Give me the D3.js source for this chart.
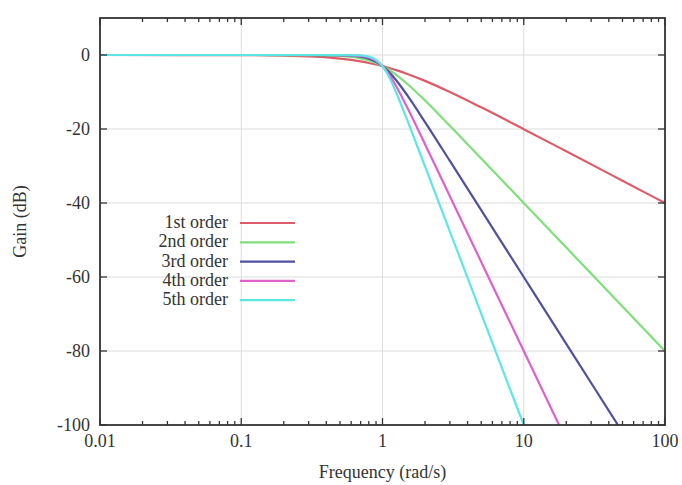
<!DOCTYPE html>
<html>
<head>
<meta charset="utf-8">
<script src="https://cdn.jsdelivr.net/npm/d3@7"></script>
<style>
  body { margin: 0; background: #fff; }
  text { font-family: "Liberation Serif", "DejaVu Serif", serif; fill: #333; }
</style>
</head>
<body>
<script>
// frequencies (rad/s) and gain (dB)
var freq = [0.01, 0.1, 0.3, 0.5, 0.7, 0.8, 0.9, 1, 1.1, 1.25, 1.5, 2, 3, 5, 10, 20, 50, 100];
var order1 = [0, -0.04, -0.37, -0.97, -1.74, -2.15, -2.58, -3.01, -3.45, -4.09, -5.12, -6.99, -10.0, -14.15, -20.04, -26.03, -33.98, -40.0];
var order2 = [0, 0, -0.035, -0.26, -0.93, -1.49, -2.19, -3.01, -3.92, -5.37, -7.83, -12.3, -19.14, -27.97, -40.0, -52.04, -67.96, -80.0];
var order3 = [0, 0, -0.003, -0.067, -0.48, -1.01, -1.85, -3.01, -4.43, -6.83, -10.93, -18.13, -28.63, -41.94, -60.0, -78.06, -101.94, -120];
var order4 = [0, 0, 0, -0.017, -0.24, -0.67, -1.55, -3.01, -4.97, -8.43, -14.25, -24.1, -38.17, -55.92, -80.0, -104.08, -136, -160];
var order5 = [0, 0, 0, -0.004, -0.12, -0.44, -1.3, -3.01, -5.56, -10.13, -17.68, -30.11, -47.71, -69.9, -100.0, -130.1, -170, -200];
var seriesNames = ["1st order", "2nd order", "3rd order", "4th order", "5th order"];
var seriesColors = ["#dd5c6c", "#7ee07a", "#5050a0", "#e060cc", "#5ee6e6"];
var xTicks = [0.01, 0.1, 1, 10, 100];
var xTickLabels = ["0.01", "0.1", "1", "10", "100"];
var yTicks = [0, -20, -40, -60, -80, -100];

var allSeries = [order1, order2, order3, order4, order5];

var W = 682, H = 485;
var pL = 100, pR = 665, pT = 18, pB = 425;

var svg = d3.select("body").append("svg")
    .attr("width", W)
    .attr("height", H);

var x = d3.scaleLog().domain([0.01, 100]).range([pL, pR]);
var y = d3.scaleLinear().domain([-100, 10]).range([pB, pT]);

// grid
svg.selectAll(".vgrid").data(xTicks.slice(1, -1)).enter().append("line")
  .attr("x1", d => x(d)).attr("x2", d => x(d))
  .attr("y1", pT).attr("y2", pB)
  .style("stroke", "#dcdcdc").style("stroke-width", 1);
svg.selectAll(".hgrid").data(yTicks.slice(0, -1)).enter().append("line")
  .attr("x1", pL).attr("x2", pR)
  .attr("y1", d => y(d)).attr("y2", d => y(d))
  .style("stroke", "#dcdcdc").style("stroke-width", 1);

// curves
svg.append("clipPath").attr("id", "clip")
  .append("rect").attr("x", pL).attr("y", pT).attr("width", pR - pL).attr("height", pB - pT);

var line = d3.line()
  .x((d, i) => x(freq[i]))
  .y(d => y(d))
  .curve(d3.curveMonotoneX);

allSeries.forEach(function(s, k) {
  svg.append("path").datum(s)
    .attr("clip-path", "url(#clip)")
    .attr("d", line)
    .style("fill", "none")
    .style("stroke", seriesColors[k])
    .style("stroke-width", 2.2);
});

// axes (ticks pointing inward, on all four sides)
var minor = [];
for (var e = -2; e < 2; e++) for (var m = 2; m <= 9; m++) minor.push(m * Math.pow(10, e));

function xAxisTicks(yy, dir) {
  svg.selectAll(null).data(xTicks).enter().append("line")
    .attr("x1", d => x(d)).attr("x2", d => x(d))
    .attr("y1", yy).attr("y2", yy + dir * 7)
    .style("stroke", "#333").style("stroke-width", 1.3);
  svg.selectAll(null).data(minor).enter().append("line")
    .attr("x1", d => x(d)).attr("x2", d => x(d))
    .attr("y1", yy).attr("y2", yy + dir * 4)
    .style("stroke", "#333").style("stroke-width", 1.3);
}
xAxisTicks(pB, -1);
xAxisTicks(pT, 1);

svg.selectAll(null).data(yTicks).enter().append("line")
  .attr("x1", pL).attr("x2", pL + 7)
  .attr("y1", d => y(d)).attr("y2", d => y(d))
  .style("stroke", "#333").style("stroke-width", 1.3);
svg.selectAll(null).data(yTicks).enter().append("line")
  .attr("x1", pR).attr("x2", pR - 7)
  .attr("y1", d => y(d)).attr("y2", d => y(d))
  .style("stroke", "#333").style("stroke-width", 1.3);

svg.append("rect")
  .attr("x", pL).attr("y", pT)
  .attr("width", pR - pL).attr("height", pB - pT)
  .style("fill", "none").style("stroke", "#333").style("stroke-width", 1.8);

// tick labels
svg.selectAll(null).data(xTicks).enter().append("text")
  .attr("x", d => x(d)).attr("y", pB + 22)
  .attr("text-anchor", "middle")
  .style("font-size", "18px")
  .text((d, i) => xTickLabels[i]);

svg.selectAll(null).data(yTicks).enter().append("text")
  .attr("x", pL - 10).attr("y", d => y(d) + 6)
  .attr("text-anchor", "end")
  .style("font-size", "18px")
  .text(d => d);

// axis titles
svg.append("text")
  .attr("x", (pL + pR) / 2).attr("y", 478)
  .attr("text-anchor", "middle")
  .style("font-size", "18px")
  .text("Frequency (rad/s)");

svg.append("text")
  .attr("transform", "translate(26," + ((pT + pB) / 2) + ") rotate(-90)")
  .attr("text-anchor", "middle")
  .style("font-size", "18px")
  .text("Gain (dB)");

// legend
seriesNames.forEach(function(name, k) {
  var ly = 223 + k * 19.3;
  svg.append("text").attr("x", 228).attr("y", ly + 5)
    .attr("text-anchor", "end")
    .style("font-size", "18px")
    .text(name);
  svg.append("line").attr("x1", 240).attr("x2", 295)
    .attr("y1", ly).attr("y2", ly)
    .style("stroke", seriesColors[k]).style("stroke-width", 2.2);
});
</script>
</body>
</html>
